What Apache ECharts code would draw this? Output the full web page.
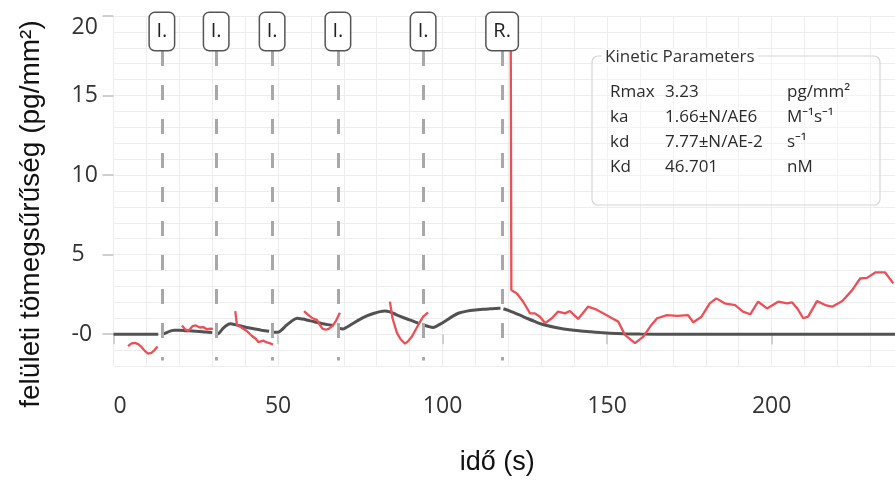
<!DOCTYPE html>
<html>
<head>
<meta charset="utf-8">
<script src="https://cdn.jsdelivr.net/npm/echarts@6/dist/echarts.min.js"></script>
<style>html,body{margin:0;padding:0;background:#fff}#c{width:895px;height:481px}</style>
</head>
<body>
<div id="c"></div>
<script>
// ---- data ----
const fitTime = [0,3,6,9,12,13.6, 14.2,
  15,16,17,18.5,20,22,24,26,28,30, 30.6,
  31.3,32,33,34,35.5,37,39,41,43,45,47.3, 47.8,
  48.4,50,51,52.5,54,55.8,57.5,59,61,63,65,66.8, 67.5,
  68.4,69.8,71,73,75,77,79,81,82.5,84,86,88,90,92.6, 93.5,
  94.2,95.5,97.1,99,101,103,105,107.4,110,112.3,114.5,116.5,117.6, 118,
  118.5,120,122,124,126,128,130,132,134,136,138,140,142,145,148,151,155,160,170,185,200,220,237.5];
const fitValue = [0,0,0,0,0,0, null,
  0,0.08,0.18,0.24,0.25,0.22,0.2,0.17,0.13,0.1, null,
  0,0.05,0.3,0.5,0.65,0.6,0.5,0.4,0.32,0.25,0.18, null,
  0.12,0.12,0.25,0.55,0.8,1.0,0.95,0.88,0.78,0.69,0.6,0.55, null,
  0.37,0.33,0.45,0.7,0.95,1.15,1.3,1.42,1.46,1.4,1.22,1.05,0.9,0.69, null,
  0.58,0.5,0.42,0.6,0.85,1.12,1.33,1.45,1.52,1.56,1.6,1.62,1.63, null,
  1.6,1.5,1.33,1.15,0.97,0.8,0.64,0.53,0.44,0.36,0.3,0.25,0.2,0.15,0.1,0.06,0.03,0.01,0,0,0,0,0];

const sensorTime = [4.4,5.5,6.5,7.5,8.5,9.5,10.5,11.5,12.5,13.4, 14,
  20.8,21.8,22.8,24,25,26.3,27.3,28.4,29.3,30.2, 31,
  37,37.5,39,40.5,42,43.3,44,45.5,46.3,47.2,48.5, 50,
  57.9,59,60.5,61.8,62.8,63.5,64.5,65.5,66.7,67.5,68.8, 70,
  84,84.8,86.1,87.2,88.6,89.5,90.7,92.6,94.1,95.6, 100,
  120.7,120.9,122.6,124.5,126.6,128.1,129.6,131.2,133.2,135.1,137.2,138.7,141.2,144.2,146.4,148.8,151.5,153.4,155.4,158.5,161,163.1,165.2,168.2,171.3,174.6,176.2,178.7,181.2,183.2,185.7,188.9,191.3,193.5,195.9,198.6,202,204.7,206.2,207.8,209.6,211.1,213.8,216.3,218.4,221.5,224.5,226.9,229,231.5,234.5,237];
const sensorValue = [-0.75,-0.58,-0.55,-0.62,-0.8,-1.05,-1.22,-1.18,-1.0,-0.78, null,
  0.55,0.3,0.22,0.5,0.55,0.42,0.45,0.3,0.35,0.33, null,
  1.45,0.6,0.4,0.2,-0.1,-0.3,-0.5,-0.4,-0.5,-0.55,-0.65, null,
  1.45,1.25,1.0,0.9,0.55,0.35,0.28,0.35,0.55,0.8,1.35, null,
  2.05,1.0,0.1,-0.3,-0.6,-0.45,-0.15,0.58,1.1,1.37, null,
  21,2.77,2.56,2.04,1.31,1.31,1.1,0.69,1.0,1.42,1.31,1.46,0.96,1.73,1.58,1.31,1.0,0.79,-0.04,-0.56,-0.15,0.48,1.0,1.2,1.15,1.2,0.75,1.1,1.94,2.25,1.94,1.83,1.42,1.25,2.04,1.62,2.04,1.94,2.0,1.62,1.0,1.1,2.08,1.83,1.73,2.08,2.77,3.5,3.54,3.88,3.88,3.19];

const injectionTime = [14.7, 31.2, 48.2, 68.2, 94.1, 118.1];
const injectionLabel = ['I.', 'I.', 'I.', 'I.', 'I.', 'R.'];

const xTicks = [0, 50, 100, 150, 200];
const yTicks = [0, 5, 10, 15, 20];

const paramName = ['Rmax', 'ka', 'kd', 'Kd'];
const paramValue = ['3.23', '1.66±N/AE6', '7.77±N/AE-2', '46.701'];
const paramUnit = ['pg/mm²', 'M⁻¹s⁻¹', 's⁻¹', 'nM'];
const paramTitle = 'Kinetic Parameters';

// ---- chart ----
const FONT_TICK = '"Open Sans", "Noto Sans", sans-serif';
const FONT_NAME = '"Liberation Sans", Arial, sans-serif';
const FONT_BOX = '"Open Sans", "Noto Sans", sans-serif';

const toPairs = (ts, vs) => ts.map((t, i) => [t, vs[i] == null ? '-' : vs[i]]);

const chart = echarts.init(document.getElementById('c'), null, {renderer: 'canvas'});

const markTop = 17.8, markBottom = -1.65;
const markData = injectionTime.map((t, i) => [
  {name: injectionLabel[i], coord: [t, markTop],
   label: {width: injectionLabel[i] === 'R.' ? 31 : 24}},
  {coord: [t, markBottom]}
]);

const rowY = [92, 117, 142, 167];
const graphics = [
  {type: 'rect', z: 100, silent: true,
   shape: {x: 592, y: 56, width: 288, height: 149, r: 6},
   style: {fill: 'rgba(255,255,255,0.35)', stroke: '#d6d6d6', lineWidth: 1.2}},
  {type: 'text', z: 101, silent: true, x: 602, y: 57,
   style: {text: paramTitle, font: '17px ' + FONT_BOX, fill: '#333',
           backgroundColor: '#fff', padding: [0, 3], verticalAlign: 'middle'}}
];
paramName.forEach((n, i) => {
  graphics.push({type: 'text', z: 101, silent: true, x: 610, y: rowY[i],
    style: {text: n, font: '17px ' + FONT_BOX, fill: '#2b2b2b', verticalAlign: 'middle'}});
  graphics.push({type: 'text', z: 101, silent: true, x: 665, y: rowY[i],
    style: {text: paramValue[i], font: '17px ' + FONT_BOX, fill: '#2b2b2b', verticalAlign: 'middle'}});
  graphics.push({type: 'text', z: 101, silent: true, x: 787, y: rowY[i],
    style: {text: paramUnit[i], font: '17px ' + FONT_BOX, fill: '#2b2b2b', verticalAlign: 'middle'}});
});

const option = {
  animation: false,
  backgroundColor: '#fff',
  grid: {left: 113.5, right: 0, top: 16, bottom: 113, containLabel: false},
  xAxis: [
    {type: 'value', min: 0, max: 237.5, interval: 10,
     axisLine: {show: false}, axisTick: {show: false}, axisLabel: {show: false},
     splitLine: {show: true, lineStyle: {color: '#ededed', width: 1}}},
    {type: 'value', min: 0, max: 237.5, position: 'bottom', offset: 5,
     axisLine: {show: false},
     axisTick: {show: true, length: 10, customValues: xTicks, lineStyle: {color: '#cfcfcf', width: 2}},
     axisLabel: {customValues: xTicks, margin: 24, fontSize: 23, color: '#333',
                 fontFamily: FONT_TICK, alignMinLabel: 'left'},
     splitLine: {show: false},
     name: 'idő (s)', nameLocation: 'middle', nameGap: 78,
     nameTextStyle: {fontSize: 27, color: '#111', fontFamily: FONT_NAME, padding: [0, 14, 0, 0]}}
  ],
  yAxis: [
    {type: 'value', min: -2, max: 20, interval: 1,
     axisLine: {show: false}, axisTick: {show: false}, axisLabel: {show: false},
     splitLine: {show: true, lineStyle: {color: '#ededed', width: 1}}},
    {type: 'value', min: -2, max: 20, position: 'left',
     axisLine: {show: false},
     axisTick: {show: true, length: 11, customValues: yTicks, lineStyle: {color: '#cfcfcf', width: 2}},
     axisLabel: {customValues: yTicks, margin: 42, align: 'left', fontSize: 23, color: '#333',
                 fontFamily: FONT_TICK, verticalAlignMaxLabel: 'top',
                 formatter: v => (v === 0 ? '-0' : String(v))},
     splitLine: {show: false},
     name: 'felületi tömegsűrűség (pg/mm²)', nameLocation: 'middle', nameRotate: 90, nameGap: 68,
     nameTextStyle: {fontSize: 28, color: '#111', fontFamily: FONT_NAME, padding: [0, 46, 0, 0]}}
  ],
  series: [
    {name: 'fit', type: 'line', xAxisIndex: 0, yAxisIndex: 0, z: 2,
     data: toPairs(fitTime, fitValue), showSymbol: false, smooth: 0.3, connectNulls: false,
     lineStyle: {color: '#525252', width: 3}},
    {name: 'sensor', type: 'line', xAxisIndex: 0, yAxisIndex: 0, z: 3,
     data: toPairs(sensorTime, sensorValue), showSymbol: false, connectNulls: false,
     lineStyle: {color: '#ec4f57', width: 2.3}},
    {name: 'injections', type: 'line', xAxisIndex: 0, yAxisIndex: 0, z: 5, data: [],
     markLine: {silent: true, symbol: ['none', 'none'], animation: false,
       lineStyle: {type: [15, 19], width: 3, color: '#a8a8a8'},
       label: {show: true, position: 'start', distance: 1, formatter: '{b}',
               fontSize: 20, fontFamily: FONT_TICK, color: '#222',
               backgroundColor: '#fff', borderColor: '#555', borderWidth: 1.5, borderRadius: 5,
               padding: 0, height: 37, lineHeight: 37},
       emphasis: {disabled: true},
       data: markData}}
  ],
  graphic: graphics
};
chart.setOption(option);
</script>
</body>
</html>
